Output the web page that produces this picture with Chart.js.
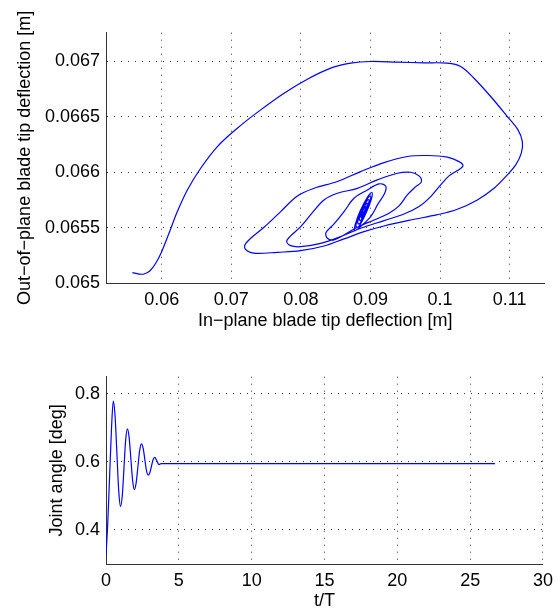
<!DOCTYPE html>
<html>
<head>
<meta charset="utf-8">
<script src="https://cdn.jsdelivr.net/npm/chart.js@4/dist/chart.umd.min.js"></script>
<style>
html, body { margin: 0; padding: 0; background: #fff; }
#wrap { position: relative; width: 559px; height: 612px; }
canvas { position: absolute; left: 0; }
</style>
</head>
<body>
<div id="wrap">
<canvas id="Diagram1" width="559" height="340" style="top:0"></canvas>
<canvas id="Diagram2" width="559" height="272" style="top:340px"></canvas>
</div>
<script>
// tip trajectory (in-plane vs out-of-plane deflection)
var inPlane = [
  0.05579, 0.05674, 0.05746, 0.05832, 0.05914, 0.06000, 0.06105, 0.06225, 0.06369, 0.06560,
  0.06800, 0.07087, 0.07422, 0.07758, 0.08093, 0.08428, 0.08715, 0.09003, 0.09386, 0.09769,
  0.10104, 0.10296, 0.10487, 0.10727, 0.10966, 0.11119, 0.11182, 0.11167, 0.11086, 0.10966,
  0.10775, 0.10535, 0.10248, 0.09961, 0.09577, 0.09194, 0.08907, 0.08620, 0.08332, 0.07997,
  0.07662, 0.07350, 0.07231, 0.07192, 0.07279, 0.07470, 0.07710, 0.07949, 0.08189, 0.08524,
  0.08859, 0.09194, 0.09529, 0.09817, 0.10104, 0.10272, 0.10329, 0.10248, 0.10128, 0.10008,
  0.09865, 0.09697, 0.09482, 0.09194, 0.08859, 0.08572, 0.08284, 0.07997, 0.07853, 0.07796,
  0.07853, 0.07997, 0.08165, 0.08332, 0.08524, 0.08811, 0.09098, 0.09386, 0.09577, 0.09697,
  0.09731, 0.09649, 0.09529, 0.09410, 0.09266, 0.09051, 0.08811, 0.08620, 0.08476, 0.08380,
  0.08361, 0.08476, 0.08620, 0.08763, 0.08955, 0.09122, 0.09218, 0.09204, 0.09108, 0.09003,
  0.08883,
  0.08775, 0.08782, 0.08856, 0.08955, 0.09020, 0.09013, 0.08938, 0.08839,
  0.08796, 0.08802, 0.08864, 0.08945, 0.08998, 0.08992, 0.08931, 0.08850,
  0.08820, 0.08824, 0.08871, 0.08934, 0.08975, 0.08970, 0.08923, 0.08861,
  0.08843, 0.08846, 0.08879, 0.08923, 0.08952, 0.08949, 0.08915, 0.08872,
  0.08865, 0.08867, 0.08887, 0.08913, 0.08930, 0.08928, 0.08908, 0.08882,
  0.08884, 0.08897
];
var outPlane = [
  0.065093, 0.065081, 0.065081, 0.065111, 0.065178, 0.065283, 0.065449, 0.065645, 0.065840, 0.066036,
  0.066232, 0.066398, 0.066563, 0.066714, 0.066840, 0.066940, 0.066985, 0.067000, 0.066994, 0.066988,
  0.066985, 0.066955, 0.066849, 0.066684, 0.066503, 0.066383, 0.066277, 0.066172, 0.066066, 0.065976,
  0.065855, 0.065750, 0.065666, 0.065617, 0.065569, 0.065515, 0.065464, 0.065398, 0.065334, 0.065292,
  0.065277, 0.065268, 0.065289, 0.065337, 0.065404, 0.065503, 0.065645, 0.065786, 0.065855, 0.065916,
  0.066006, 0.066087, 0.066142, 0.066151, 0.066136, 0.066096, 0.066057, 0.066015, 0.065967, 0.065886,
  0.065780, 0.065690, 0.065623, 0.065563, 0.065494, 0.065419, 0.065358, 0.065328, 0.065337, 0.065377,
  0.065425, 0.065509, 0.065636, 0.065750, 0.065810, 0.065855, 0.065931, 0.065991, 0.066000, 0.065967,
  0.065913, 0.065870, 0.065795, 0.065696, 0.065630, 0.065569, 0.065503, 0.065434, 0.065389, 0.065404,
  0.065455, 0.065533, 0.065645, 0.065765, 0.065840, 0.065895, 0.065876, 0.065810, 0.065714, 0.065599,
  0.065524,
  0.065473, 0.065532, 0.065656, 0.065774, 0.065817, 0.065758, 0.065634, 0.065516,
  0.065504, 0.065552, 0.065654, 0.065751, 0.065786, 0.065738, 0.065636, 0.065539,
  0.065536, 0.065574, 0.065652, 0.065727, 0.065754, 0.065716, 0.065638, 0.065563,
  0.065569, 0.065595, 0.065650, 0.065702, 0.065721, 0.065695, 0.065640, 0.065588,
  0.065600, 0.065615, 0.065648, 0.065679, 0.065690, 0.065675, 0.065642, 0.065611,
  0.065627, 0.065645
];

// joint angle against t/T
var timeT = [0, 0.12, 0.25, 0.38, 0.50, 0.625, 0.75, 0.875, 1.00, 1.12, 1.235, 1.35, 1.47,
  1.59, 1.71, 1.83, 1.95, 2.07, 2.19, 2.31, 2.43, 2.55, 2.665, 2.78, 2.90, 3.01, 3.12, 3.23,
  3.34, 3.49, 3.64, 3.80, 4.2, 8, 15, 20, 26.7];
var jointAngle = [0.325, 0.42, 0.56, 0.70, 0.778, 0.733, 0.623, 0.514, 0.469, 0.502, 0.583, 0.664, 0.697,
  0.671, 0.607, 0.544, 0.518, 0.538, 0.585, 0.633, 0.653, 0.640, 0.607, 0.574, 0.561, 0.568, 0.587, 0.606,
  0.613, 0.603, 0.592, 0.595, 0.595, 0.595, 0.595, 0.595, 0.595];

var topXTicks = [0.06, 0.07, 0.08, 0.09, 0.1, 0.11];
var topYTicks = [0.065, 0.0655, 0.066, 0.0665, 0.067];
var botXTicks = [0, 5, 10, 15, 20, 25, 30];
var botYTicks = [0.4, 0.6, 0.8];

Chart.defaults.font.family = '"Liberation Sans", Arial, Helvetica, sans-serif';
Chart.defaults.font.size = 18;
Chart.defaults.color = '#000';

function fmt(v) { return String(+v.toFixed(5)); }

function axis(min, max, tickList, title, titlePad, fitSize, isX) {
  return {
    type: 'linear',
    min: min,
    max: max,
    afterBuildTicks: function (s) { s.ticks = tickList.map(function (v) { return { value: v }; }); },
    afterFit: function (s) { if (isX) { s.height = fitSize; } else { s.width = fitSize; } },
    ticks: { padding: 6, autoSkip: false, maxRotation: 0, callback: fmt },
    grid: { color: 'rgba(0,0,0,0.8)', lineWidth: 1, drawTicks: false },
    border: { display: true, color: '#333', width: 1, dash: [1, 6] },
    title: { display: true, text: title, padding: titlePad, font: { size: 18 } }
  };
}

var pts1 = inPlane.map(function (x, i) { return { x: x, y: outPlane[i] }; });
var pts2 = timeT.map(function (t, i) { return { x: t, y: jointAngle[i] }; });

var ctx1 = document.getElementById('Diagram1').getContext('2d');
var ctx2 = document.getElementById('Diagram2').getContext('2d');

var PhasePlot = new Chart(ctx1, {
  type: 'scatter',
  data: {
    datasets: [{
      data: pts1,
      showLine: true,
      borderColor: '#0000ff',
      borderWidth: 1.2,
      pointRadius: 0,
      tension: 0.35
    }]
  },
  options: {
    responsive: false,
    animation: false,
    devicePixelRatio: 1,
    layout: { padding: { left: 0, right: 14.5, top: 32.7, bottom: 0 } },
    plugins: { legend: { display: false }, tooltip: { enabled: false } },
    scales: {
      x: axis(0.052, 0.115, topXTicks, 'In\u2212plane blade tip deflection [m]', { top: 0, bottom: 8 }, 57, true),
      y: axis(0.065, 0.06726, topYTicks, 'Out\u2212of\u2212plane blade tip deflection [m]', { top: 14, bottom: 0 }, 106, false)
    }
  }
});

var AnglePlot = new Chart(ctx2, {
  type: 'scatter',
  data: {
    datasets: [{
      data: pts2,
      showLine: true,
      borderColor: '#0000ff',
      borderWidth: 1.2,
      pointRadius: 0,
      cubicInterpolationMode: 'monotone'
    }]
  },
  options: {
    responsive: false,
    animation: false,
    devicePixelRatio: 1,
    layout: { padding: { left: 0, right: 16, top: 36.7, bottom: 0 } },
    plugins: { legend: { display: false }, tooltip: { enabled: false } },
    scales: {
      x: axis(0, 30, botXTicks, 't/T', { top: 0, bottom: 0 }, 48, true),
      y: axis(0.3, 0.85, botYTicks, 'Joint angle [deg]', { top: 46, bottom: 0 }, 106, false)
    }
  }
});
</script>
</body>
</html>
